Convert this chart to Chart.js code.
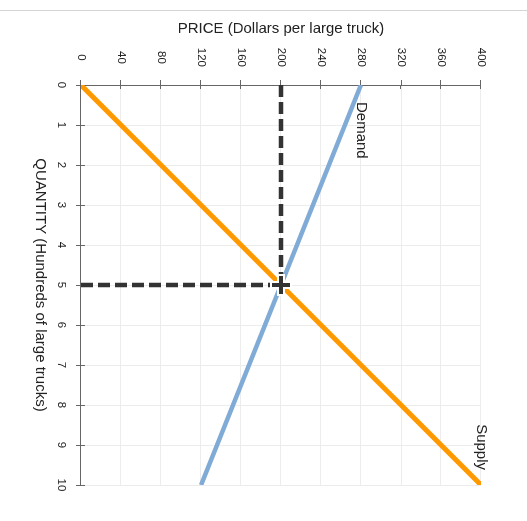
<!DOCTYPE html>
<html>
<head>
<meta charset="utf-8">
<script src="https://cdn.jsdelivr.net/npm/chart.js@4.4.0/dist/chart.umd.min.js"></script>
<style>
  html, body { margin: 0; padding: 0; background: #fff; overflow: hidden; }
  #wrap { position: relative; width: 527px; height: 521px; }
  #rule { position: absolute; left: 0; top: 10px; width: 527px; height: 1px; background: #d4d4d4; }
  /* chart is drawn upright, then turned a quarter clockwise like the reference */
  #chart { position: absolute; left: 0; top: 0; width: 521px; height: 527px;
           transform-origin: 0 0; transform: translate(527px, 0) rotate(90deg); }
</style>
</head>
<body>
<div id="wrap">
  <canvas id="chart" width="521" height="527"></canvas>
  <div id="rule"></div>
</div>
<script>
// data
const quantity = [0, 10];
const demandPrice = [280, 120];
const supplyPrice = [0, 400];
const eqQuantity = 5;
const eqPrice = 200;
const quantityTicks = [0, 1, 2, 3, 4, 5, 6, 7, 8, 9, 10];
const priceTicks = [0, 40, 80, 120, 160, 200, 240, 280, 320, 360, 400];

const FONT = '"Liberation Sans", Arial, sans-serif';
const AXIS_COLOR = '#666';
Chart.defaults.font.family = FONT;
Chart.defaults.color = '#222';

const toPoints = (xs, ys) => xs.map((x, i) => ({ x: x, y: ys[i] }));

// tick marks cross the axis line in the reference
const innerTicks = {
  id: 'innerTicks',
  beforeDatasetsDraw(chart) {
    const { ctx, scales: { x, y } } = chart;
    ctx.save();
    ctx.strokeStyle = AXIS_COLOR;
    ctx.lineWidth = 1;
    ctx.beginPath();
    quantityTicks.forEach(v => {
      const px = Math.round(x.getPixelForValue(v)) + 0.5;
      ctx.moveTo(px, y.bottom);
      ctx.lineTo(px, y.bottom - 4);
    });
    priceTicks.forEach(v => {
      const py = Math.round(y.getPixelForValue(v)) + 0.5;
      ctx.moveTo(x.left, py);
      ctx.lineTo(x.left + 4, py);
    });
    ctx.stroke();
    ctx.restore();
  }
};

// "Demand" / "Supply" labels next to the line ends
const seriesLabels = {
  id: 'seriesLabels',
  afterDatasetsDraw(chart) {
    const ctx = chart.ctx;
    const d = chart.getDatasetMeta(0).data[0];
    const s = chart.getDatasetMeta(1).data[1];
    ctx.save();
    ctx.font = '15px ' + FONT;
    ctx.fillStyle = '#222';
    ctx.textBaseline = 'middle';
    ctx.textAlign = 'left';
    ctx.fillText('Demand', d.x + 17, d.y);
    ctx.textAlign = 'right';
    ctx.fillText('Supply', s.x - 15, s.y);
    ctx.restore();
  }
};

new Chart(document.getElementById('chart'), {
  type: 'scatter',
  data: {
    datasets: [
      {
        label: 'Demand',
        data: toPoints(quantity, demandPrice),
        showLine: true,
        borderColor: '#80abd6',
        borderWidth: 4.5,
        pointRadius: 0,
        order: 5
      },
      {
        label: 'Supply',
        data: toPoints(quantity, supplyPrice),
        showLine: true,
        borderColor: '#ff9900',
        borderWidth: 5,
        pointRadius: 0,
        order: 4
      },
      {
        label: 'Price guide',
        data: [{ x: 0, y: eqPrice }, { x: eqQuantity, y: eqPrice }],
        showLine: true,
        borderColor: '#333',
        borderWidth: 4.5,
        borderDash: [12, 5],
        pointRadius: 0,
        order: 3
      },
      {
        label: 'Quantity guide',
        data: [{ x: eqQuantity, y: 0 }, { x: eqQuantity, y: eqPrice }],
        showLine: true,
        borderColor: '#333',
        borderWidth: 4.5,
        borderDash: [12, 5],
        pointRadius: 0,
        order: 2
      },
      {
        label: 'Equilibrium outline',
        data: [{ x: eqQuantity, y: eqPrice }],
        pointStyle: 'cross',
        pointRadius: 11,
        pointBorderWidth: 8,
        pointBorderColor: '#fff',
        order: 1
      },
      {
        label: 'Equilibrium',
        data: [{ x: eqQuantity, y: eqPrice }],
        pointStyle: 'cross',
        pointRadius: 9,
        pointBorderWidth: 4,
        pointBorderColor: '#333',
        order: 0
      }
    ]
  },
  options: {
    responsive: false,
    animation: false,
    devicePixelRatio: 1,
    layout: { padding: { top: 46, right: 36, left: 0, bottom: 0 } },
    plugins: {
      legend: { display: false },
      tooltip: { enabled: false }
    },
    scales: {
      x: {
        type: 'linear',
        min: 0,
        max: 10,
        afterFit: s => { s.height = 81; },
        afterBuildTicks: s => { s.ticks = quantityTicks.map(v => ({ value: v })); },
        grid: { color: '#ececec', tickColor: AXIS_COLOR, tickLength: 5 },
        border: { color: AXIS_COLOR, width: 1 },
        ticks: { font: { size: 11.5 }, padding: 8, maxRotation: 0, color: '#222' },
        title: {
          display: true,
          text: 'QUANTITY (Hundreds of large trucks)',
          font: { size: 15 },
          color: '#222',
          padding: { top: 0, bottom: 31 }
        }
      },
      y: {
        type: 'linear',
        min: 0,
        max: 400,
        afterFit: s => { s.width = 85; },
        afterBuildTicks: s => { s.ticks = priceTicks.map(v => ({ value: v })); },
        grid: { color: '#ececec', tickColor: AXIS_COLOR, tickLength: 5 },
        border: { color: AXIS_COLOR, width: 1 },
        ticks: { font: { size: 11.5 }, padding: 13, crossAlign: 'center', color: '#222' },
        title: {
          display: true,
          text: 'PRICE (Dollars per large truck)',
          font: { size: 15 },
          color: '#222',
          padding: { top: 20, bottom: 0 }
        }
      }
    }
  },
  plugins: [innerTicks, seriesLabels]
});
</script>
</body>
</html>
